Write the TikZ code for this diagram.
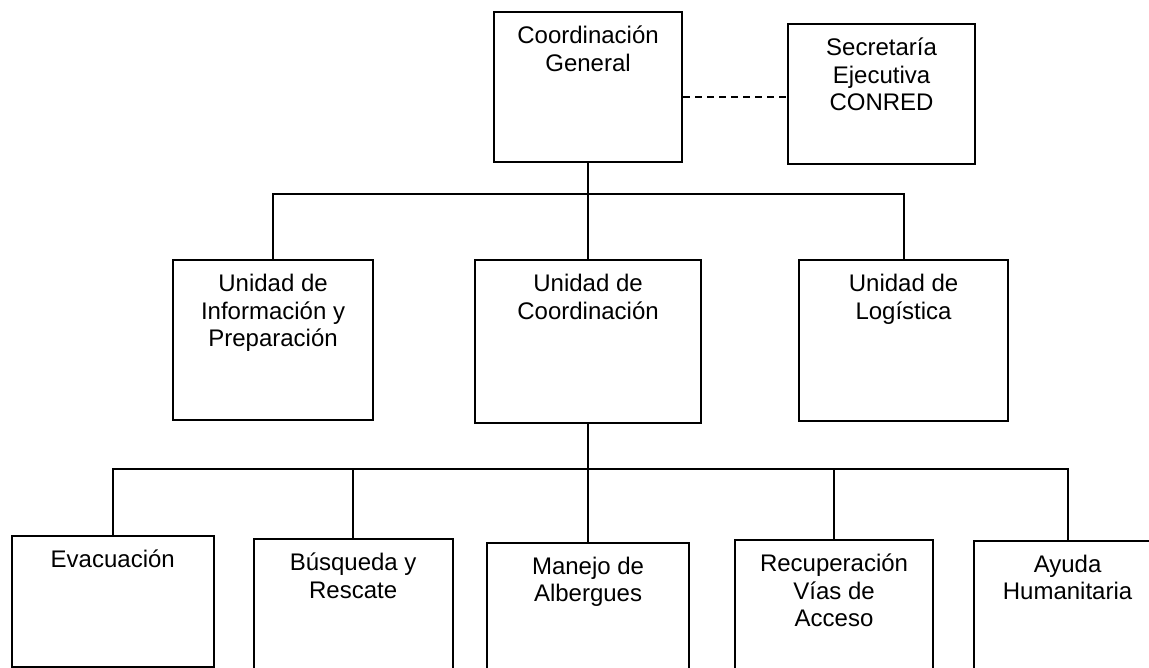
\documentclass[tikz,border=0pt]{standalone}
\usepackage{fontspec}
\setmainfont{Liberation Sans}
\begin{document}
\begin{tikzpicture}[x=1pt,y=-1pt,
  box/.style={draw, line width=2.1pt, inner sep=0pt, anchor=north west},
  lbl/.style={anchor=north, inner sep=0pt, align=center, font=\fontsize{24}{27.5}\selectfont},
  conn/.style={line width=2.1pt},
  dashconn/.style={line width=2pt, dash pattern=on 7pt off 5pt}]
\useasboundingbox (0,0) rectangle (1149,667);
\clip (0,0) rectangle (1149,667);
\fill[white] (0,0) rectangle (1149,667);
\newcommand\sq{\rule{0pt}{23pt}}
% level 0
\node[box, minimum width=188pt, minimum height=149.4pt] (cg) at (493,11.3) {};
\node[box, minimum width=187pt, minimum height=140pt] (sec) at (787,23.3) {};
% level 1
\node[box, minimum width=200pt, minimum height=159.4pt] (info) at (172,259.3) {};
\node[box, minimum width=226pt, minimum height=162.4pt] (coord) at (474,259.3) {};
\node[box, minimum width=209pt, minimum height=160.2pt] (log) at (798,259.3) {};
% level 2
\node[box, minimum width=202pt, minimum height=130.7pt] (evac) at (10.7,535) {};
\node[box, minimum width=199pt, minimum height=150pt] (busq) at (252.6,538.3) {};
\node[box, minimum width=202pt, minimum height=150pt] (manejo) at (486,542) {};
\node[box, minimum width=198pt, minimum height=150pt] (recup) at (734,539.3) {};
\node[box, minimum width=188pt, minimum height=150pt] (ayuda) at (972.5,540) {};
% labels
\node[lbl] (cg-t) at ([yshift=-9pt]cg.north) {\sq Coordinación\\General};
\node[lbl] (sec-t) at ([yshift=-9pt]sec.north) {\sq Secretaría\\Ejecutiva\\CONRED};
\node[lbl] (info-t) at ([yshift=-9pt]info.north) {\sq Unidad de\\Información y\\Preparación};
\node[lbl] (coord-t) at ([yshift=-9pt]coord.north) {\sq Unidad de\\Coordinación};
\node[lbl] (log-t) at ([yshift=-9pt]log.north) {\sq Unidad de\\Logística};
\node[lbl] (evac-t) at ([yshift=-9pt]evac.north) {\sq Evacuación};
\node[lbl] (busq-t) at ([yshift=-9pt]busq.north) {\sq Búsqueda y\\Rescate};
\node[lbl] (manejo-t) at ([yshift=-9pt]manejo.north) {\sq Manejo de\\Albergues};
\node[lbl] (recup-t) at ([yshift=-9pt]recup.north) {\sq Recuperación\\Vías de\\Acceso};
\node[lbl] (ayuda-t) at ([yshift=-9pt]ayuda.north) {\sq Ayuda\\Humanitaria};
% connectors
\coordinate (bus1) at (587,194);
\coordinate (bus2) at (587,469.3);
\draw[dashconn] (cg.east |- 0,97.3) -- (sec.west |- 0,97.3);
\draw[conn] (cg.south) -- (coord.north);
\draw[conn] (info.north) |- (bus1) -| (log.north);
\draw[conn] (coord.south) -- (manejo.north);
\draw[conn] (evac.north) |- (bus2) -| (ayuda.north);
\draw[conn] (busq.north) -- (busq.north |- bus2);
\draw[conn] (recup.north) -- (recup.north |- bus2);
\end{tikzpicture}
\end{document}
